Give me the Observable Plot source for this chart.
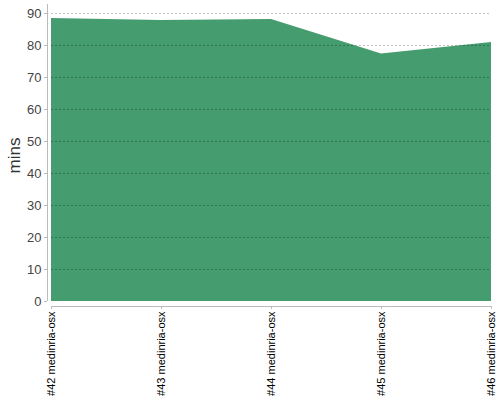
<!DOCTYPE html>
<html>
<head>
<meta charset="utf-8">
<script src="https://cdn.jsdelivr.net/npm/d3@7"></script>
<script src="https://cdn.jsdelivr.net/npm/@observablehq/plot@0.6"></script>
<style>
  html, body { margin: 0; padding: 0; background: #fff; }
</style>
</head>
<body>
<div id="chart"></div>
<script>
const builds = ["#42 medinria-osx", "#43 medinria-osx", "#44 medinria-osx", "#45 medinria-osx", "#46 medinria-osx"];
const mins = [88.4, 87.8, 88.1, 77.3, 80.9];
const yTicks = [0, 10, 20, 30, 40, 50, 60, 70, 80, 90];
const yMax = 92.8;

const data = builds.map((b, i) => ({build: b, mins: mins[i]}));
const first = builds[0], last = builds[builds.length - 1];

const chart = Plot.plot({
  width: 500,
  height: 400,
  marginLeft: 47,
  marginRight: 9,
  marginTop: 4,
  marginBottom: 94,
  style: {fontFamily: "'Liberation Sans', Arial, sans-serif", background: "#fff"},
  x: {type: "point", domain: builds, padding: 0, insetLeft: 4, label: null},
  y: {domain: [0, yMax], insetBottom: 5, label: null},
  marks: [
    Plot.areaY(data, {x: "build", y: "mins", fill: "#459c6e"}),
    Plot.ruleY(yTicks.filter(d => d > 0), {x1: () => first, x2: () => last, stroke: "#000", strokeOpacity: 0.25, strokeDasharray: "2,2"}),
    Plot.ruleX([first], {x: d => d, y1: () => 0, y2: () => yMax, dx: -4, stroke: "#bbb"}),
    Plot.ruleY([0], {y: d => d, x1: () => first, x2: () => last, dy: 5, stroke: "#bbb"}),
    Plot.axisY({ticks: yTicks, tickSize: 3, tickPadding: 3, fontSize: 13, stroke: "#bbb", fill: "#444", label: null}),
    Plot.axisY({ticks: [], label: "mins", labelAnchor: "center", labelArrow: "none", labelOffset: 40, fontSize: 17, fill: "#333"}),
    Plot.axisX({tickSize: 3, tickPadding: 2, tickRotate: -90, fontSize: 11, stroke: "#bbb", fill: "#000", label: null})
  ]
});
document.getElementById("chart").appendChild(chart);
</script>
</body>
</html>
